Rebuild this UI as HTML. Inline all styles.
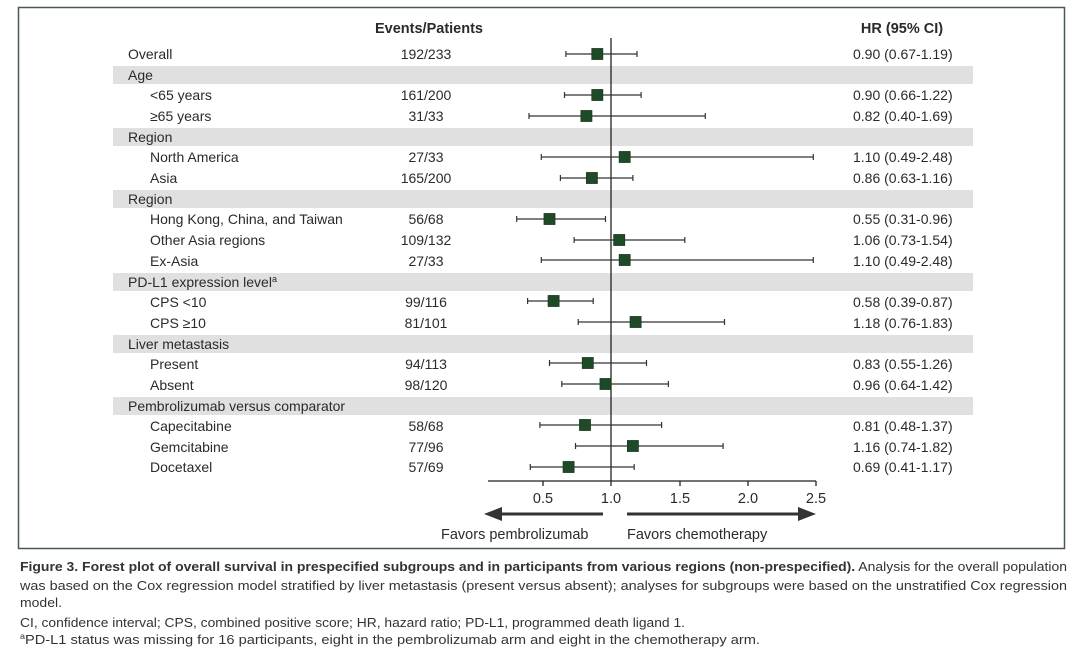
<!DOCTYPE html>
<html><head><meta charset="utf-8"><style>
html,body{margin:0;padding:0;background:#fff;}
svg{display:block;}
text{font-family:"Liberation Sans",sans-serif;fill:#2a2a2a;}
.c{font-family:"Liberation Sans",sans-serif;fill:#333;font-size:13px;}
</style></head><body>
<svg width="1080" height="651" viewBox="0 0 1080 651" xmlns="http://www.w3.org/2000/svg">
<rect x="18.5" y="7.5" width="1046" height="541" fill="#fff" stroke="#4a5a4a" stroke-width="1.5"/>
<g fill="#e0e0e0">
<rect x="113" y="66" width="860" height="18"/>
<rect x="113" y="128" width="860" height="18"/>
<rect x="113" y="190" width="860" height="18"/>
<rect x="113" y="273" width="860" height="18"/>
<rect x="113" y="335" width="860" height="18"/>
<rect x="113" y="397" width="860" height="18"/>
</g>
<g font-size="14.5" font-weight="bold">
<text x="429" y="33" text-anchor="middle">Events/Patients</text>
<text x="902" y="33" text-anchor="middle">HR (95% CI)</text>
</g>
<g font-size="14">
<text x="128" y="59">Overall</text><text x="426" y="59" text-anchor="middle">192/233</text><text x="853" y="59">0.90 (0.67-1.19)</text>
<text x="128" y="80">Age</text>
<text x="150" y="100">&lt;65 years</text><text x="426" y="100" text-anchor="middle">161/200</text><text x="853" y="100">0.90 (0.66-1.22)</text>
<text x="150" y="121">≥65 years</text><text x="426" y="121" text-anchor="middle">31/33</text><text x="853" y="121">0.82 (0.40-1.69)</text>
<text x="128" y="142">Region</text>
<text x="150" y="162">North America</text><text x="426" y="162" text-anchor="middle">27/33</text><text x="853" y="162">1.10 (0.49-2.48)</text>
<text x="150" y="183">Asia</text><text x="426" y="183" text-anchor="middle">165/200</text><text x="853" y="183">0.86 (0.63-1.16)</text>
<text x="128" y="204">Region</text>
<text x="150" y="224">Hong Kong, China, and Taiwan</text><text x="426" y="224" text-anchor="middle">56/68</text><text x="853" y="224">0.55 (0.31-0.96)</text>
<text x="150" y="245">Other Asia regions</text><text x="426" y="245" text-anchor="middle">109/132</text><text x="853" y="245">1.06 (0.73-1.54)</text>
<text x="150" y="266">Ex-Asia</text><text x="426" y="266" text-anchor="middle">27/33</text><text x="853" y="266">1.10 (0.49-2.48)</text>
<text x="128" y="287">PD-L1 expression level<tspan font-size="9" dy="-5">a</tspan></text>
<text x="150" y="307">CPS &lt;10</text><text x="426" y="307" text-anchor="middle">99/116</text><text x="853" y="307">0.58 (0.39-0.87)</text>
<text x="150" y="328">CPS ≥10</text><text x="426" y="328" text-anchor="middle">81/101</text><text x="853" y="328">1.18 (0.76-1.83)</text>
<text x="128" y="349">Liver metastasis</text>
<text x="150" y="369">Present</text><text x="426" y="369" text-anchor="middle">94/113</text><text x="853" y="369">0.83 (0.55-1.26)</text>
<text x="150" y="390">Absent</text><text x="426" y="390" text-anchor="middle">98/120</text><text x="853" y="390">0.96 (0.64-1.42)</text>
<text x="128" y="411">Pembrolizumab versus comparator</text>
<text x="150" y="431">Capecitabine</text><text x="426" y="431" text-anchor="middle">58/68</text><text x="853" y="431">0.81 (0.48-1.37)</text>
<text x="150" y="452">Gemcitabine</text><text x="426" y="452" text-anchor="middle">77/96</text><text x="853" y="452">1.16 (0.74-1.82)</text>
<text x="150" y="472">Docetaxel</text><text x="426" y="472" text-anchor="middle">57/69</text><text x="853" y="472">0.69 (0.41-1.17)</text>
</g>
<line x1="611" y1="38" x2="611" y2="481" stroke="#222" stroke-width="1.3"/>
<g stroke="#333" stroke-width="1.2">
<path d="M565.9 54H637M565.9 51V57M637 51V57"/>
<path d="M564.5 95H641.1M564.5 92V98M641.1 92V98"/>
<path d="M529 116H705.3M529 113V119M705.3 113V119"/>
<path d="M541.3 157H813.3M541.3 154V160M813.3 154V160"/>
<path d="M560.4 178H632.9M560.4 175V181M632.9 175V181"/>
<path d="M516.7 219H605.5M516.7 216V222M605.5 216V222"/>
<path d="M574.1 240H684.8M574.1 237V243M684.8 237V243"/>
<path d="M541.3 260H813.3M541.3 257V263M813.3 257V263"/>
<path d="M527.6 301H593.2M527.6 298V304M593.2 298V304"/>
<path d="M578.2 322H724.5M578.2 319V325M724.5 319V325"/>
<path d="M549.5 363H646.5M549.5 360V366M646.5 360V366"/>
<path d="M561.8 384H668.4M561.8 381V387M668.4 381V387"/>
<path d="M539.9 425H661.6M539.9 422V428M661.6 422V428"/>
<path d="M575.5 446H723.1M575.5 443V449M723.1 443V449"/>
<path d="M530.3 467H634.2M530.3 464V470M634.2 464V470"/>
</g>
<g fill="#1f4a28" stroke="#1a3a20" stroke-width="0.8">
<rect x="591.8" y="48.5" width="11" height="11"/>
<rect x="591.8" y="89.5" width="11" height="11"/>
<rect x="580.9" y="110.5" width="11" height="11"/>
<rect x="619.2" y="151.5" width="11" height="11"/>
<rect x="586.4" y="172.5" width="11" height="11"/>
<rect x="544" y="213.5" width="11" height="11"/>
<rect x="613.7" y="234.5" width="11" height="11"/>
<rect x="619.2" y="254.5" width="11" height="11"/>
<rect x="548.1" y="295.5" width="11" height="11"/>
<rect x="630.1" y="316.5" width="11" height="11"/>
<rect x="582.3" y="357.5" width="11" height="11"/>
<rect x="600" y="378.5" width="11" height="11"/>
<rect x="579.5" y="419.5" width="11" height="11"/>
<rect x="627.4" y="440.5" width="11" height="11"/>
<rect x="563.1" y="461.5" width="11" height="11"/>
</g>
<g stroke="#222" stroke-width="1.3">
<line x1="488" y1="481" x2="816" y2="481"/>
<line x1="543" y1="481" x2="543" y2="486"/><line x1="611" y1="481" x2="611" y2="486"/><line x1="680" y1="481" x2="680" y2="486"/><line x1="748" y1="481" x2="748" y2="486"/><line x1="816" y1="481" x2="816" y2="486"/>
</g>
<g font-size="14.5" text-anchor="middle">
<text x="543" y="503">0.5</text><text x="611" y="503">1.0</text><text x="680" y="503">1.5</text><text x="748" y="503">2.0</text><text x="816" y="503">2.5</text>
</g>
<g fill="#333" stroke="#333">
<line x1="500" y1="514" x2="603" y2="514" stroke-width="3"/>
<polygon points="484,514 502,507 502,521" stroke="none"/>
<line x1="627" y1="514" x2="800" y2="514" stroke-width="3"/>
<polygon points="816,514 798,507 798,521" stroke="none"/>
</g>
<g font-size="14.5">
<text x="441" y="539">Favors pembrolizumab</text>
<text x="627" y="539">Favors chemotherapy</text>
</g>
<text class="c" x="20" y="571" textLength="1047" lengthAdjust="spacingAndGlyphs"><tspan font-weight="bold">Figure 3.  Forest plot of overall survival in prespecified subgroups and in participants from various regions (non-prespecified).</tspan> Analysis for the overall population</text>
<text class="c" x="20" y="590" textLength="1047" lengthAdjust="spacingAndGlyphs">was based on the Cox regression model stratified by liver metastasis (present versus absent); analyses for subgroups were based on the unstratified Cox regression</text>
<text class="c" x="20" y="607" textLength="42" lengthAdjust="spacingAndGlyphs">model.</text>
<text class="c" x="20" y="627" textLength="665" lengthAdjust="spacingAndGlyphs">CI, confidence interval; CPS, combined positive score; HR, hazard ratio; PD-L1, programmed death ligand 1.</text>
<text class="c" x="20" y="644" textLength="740" lengthAdjust="spacingAndGlyphs"><tspan font-size="8" dy="-5">a</tspan><tspan dy="5">PD-L1 status was missing for 16 participants, eight in the pembrolizumab arm and eight in the chemotherapy arm.</tspan></text>
</svg>
</body></html>
